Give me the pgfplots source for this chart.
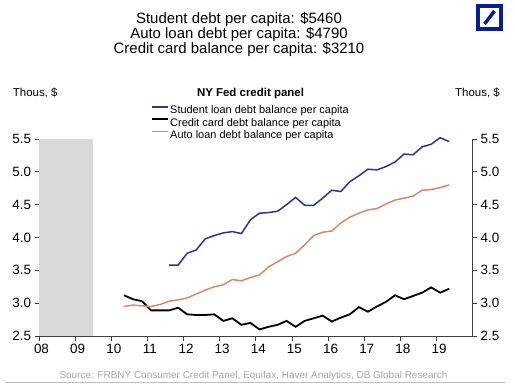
\documentclass[border=0pt]{standalone}
\usepackage{fontspec}
\setmainfont{Liberation Sans}
\usepackage{pgfplots}
\pgfplotsset{compat=1.18}
\definecolor{stud}{HTML}{283593}
\definecolor{autoc}{HTML}{D6876F}
\definecolor{logoblue}{HTML}{0A1E8C}
\definecolor{shade}{HTML}{D9D9D9}
\definecolor{srcgray}{HTML}{A6A6A6}
\definecolor{axgray}{HTML}{404040}

\begin{document}
\begin{tikzpicture}[x=1bp,y=1bp]
\useasboundingbox (0,0) rectangle (515,386);

% titles
\node[font=\fontsize{15}{15}\selectfont, anchor=base] at (239,362.6) {Student debt per capita: \$5460};
\node[font=\fontsize{15}{15}\selectfont, anchor=base] at (239,347.6) {Auto loan debt per capita: \$4790};
\node[font=\fontsize{15}{15}\selectfont, anchor=base] at (239,332.6) {Credit card balance per capita: \$3210};

% logo
\draw[logoblue, line width=3.6bp] (477.8,356.8) rectangle (501.2,380.2);
\draw[logoblue, line width=3.4bp] (484.5,362) -- (494.5,375);

% side labels
\node[font=\fontsize{11.5}{13}\selectfont, anchor=base west, inner sep=0pt] at (12.7,289.9) {Thous, \$};
\node[font=\fontsize{11.5}{13}\selectfont, anchor=base west, inner sep=0pt] at (455,289.9) {Thous, \$};
\node[font=\fontsize{11.5}{13}\selectfont\bfseries, anchor=base, inner sep=0pt] at (250.5,289.9) {NY Fed credit panel};

% source
\node[font=\fontsize{10}{12}\selectfont, text=srcgray, anchor=base west, inner sep=0pt] at (59.3,7.6) {Source: FRBNY Consumer Credit Panel, Equifax, Haver Analytics, DB Global Research};
\draw[srcgray!70, line width=0.9bp] (5,3.5) -- (505,3.5);

\begin{axis}[
  at={(39bp,50bp)}, anchor=south west,
  scale only axis, width=433.7bp, height=197bp,
  xmin=2008, xmax=2020, ymin=2.5, ymax=5.5,
  axis x line*=bottom, axis y line*=left,
  axis line style={-, axgray, line width=0.8bp},
  clip=false,
  xtick={2008,...,2019},
  xticklabels={08,09,10,11,12,13,14,15,16,17,18,19},
  ytick={2.5,3,3.5,4,4.5,5,5.5},
  yticklabel style={/pgf/number format/.cd, fixed, fixed zerofill, precision=1},
  tick align=outside, major tick length=4.5bp,
  tick style={axgray, line width=0.8bp},
  ticklabel style={font=\fontsize{13.5}{15}\selectfont},
  xticklabel style={xshift=2.5bp},
  /pgf/number format/assume math mode=true,
  legend style={at={(0.258,1.174)}, anchor=north west, draw=none, fill=none,
    inner sep=0pt, font=\fontsize{11}{13}\selectfont, row sep=0.8bp,
    nodes={inner xsep=1.5bp, inner ysep=0pt, text height=9bp, text depth=2.5bp}},
  legend cell align=left,
  legend image code/.code={\draw[#1, line width=1.6bp] (0bp,3.8bp) -- (16bp,3.8bp);},
]
\addplot[fill=shade, draw=none, forget plot] coordinates {(2008,2.5) (2008,5.5) (2009.5,5.5) (2009.5,2.5)} -- cycle;

\addplot[stud, line width=1.5bp] coordinates {
(2011.60,3.58) (2011.85,3.58) (2012.10,3.76) (2012.35,3.81) (2012.60,3.98) (2012.85,4.03)
(2013.10,4.07) (2013.35,4.09) (2013.60,4.06) (2013.85,4.27) (2014.10,4.37) (2014.35,4.38)
(2014.60,4.40) (2014.85,4.50) (2015.10,4.61) (2015.35,4.49) (2015.60,4.49) (2015.85,4.60)
(2016.10,4.72) (2016.35,4.70) (2016.60,4.85) (2016.85,4.94) (2017.10,5.04) (2017.35,5.03)
(2017.60,5.08) (2017.85,5.15) (2018.10,5.27) (2018.35,5.26) (2018.60,5.38) (2018.85,5.42)
(2019.10,5.52) (2019.35,5.46)};
\addlegendentry{Student loan debt balance per capita}

\addplot[black, line width=1.8bp] coordinates {
(2010.35,3.12) (2010.60,3.06) (2010.85,3.03) (2011.10,2.89) (2011.35,2.89) (2011.60,2.89)
(2011.85,2.93) (2012.10,2.83) (2012.35,2.82) (2012.60,2.82) (2012.85,2.83) (2013.10,2.73)
(2013.35,2.77) (2013.60,2.67) (2013.85,2.70) (2014.10,2.60) (2014.35,2.64) (2014.60,2.67)
(2014.85,2.73) (2015.10,2.64) (2015.35,2.73) (2015.60,2.77) (2015.85,2.81) (2016.10,2.72)
(2016.35,2.78) (2016.60,2.83) (2016.85,2.94) (2017.10,2.87) (2017.35,2.95) (2017.60,3.02)
(2017.85,3.12) (2018.10,3.06) (2018.35,3.11) (2018.60,3.16) (2018.85,3.24) (2019.10,3.16)
(2019.35,3.22)};
\addlegendentry{Credit card debt balance per capita}

\addplot[autoc, line width=1.5bp] coordinates {
(2010.35,2.95) (2010.60,2.97) (2010.85,2.96) (2011.10,2.95) (2011.35,2.98) (2011.60,3.03)
(2011.85,3.05) (2012.10,3.08) (2012.35,3.14) (2012.60,3.20) (2012.85,3.25) (2013.10,3.28)
(2013.35,3.36) (2013.60,3.34) (2013.85,3.39) (2014.10,3.43) (2014.35,3.55) (2014.60,3.63)
(2014.85,3.71) (2015.10,3.76) (2015.35,3.89) (2015.60,4.03) (2015.85,4.08) (2016.10,4.10)
(2016.35,4.22) (2016.60,4.31) (2016.85,4.37) (2017.10,4.42) (2017.35,4.44) (2017.60,4.51)
(2017.85,4.57) (2018.10,4.60) (2018.35,4.63) (2018.60,4.72) (2018.85,4.73) (2019.10,4.76)
(2019.35,4.80)};
\addlegendentry{Auto loan debt balance per capita}
\end{axis}

\begin{axis}[
  at={(39bp,50bp)}, anchor=south west,
  scale only axis, width=433.7bp, height=197bp,
  xmin=2008, xmax=2020, ymin=2.5, ymax=5.5,
  axis x line=none, axis y line*=right,
  axis line style={-, axgray, line width=0.8bp},
  ytick={2.5,3,3.5,4,4.5,5,5.5},
  yticklabel style={/pgf/number format/.cd, fixed, fixed zerofill, precision=1},
  tick align=outside, major tick length=4.5bp,
  tick style={axgray, line width=0.8bp},
  ticklabel style={font=\fontsize{13.5}{15}\selectfont},
  /pgf/number format/assume math mode=true,
]
\end{axis}
\end{tikzpicture}
\end{document}
